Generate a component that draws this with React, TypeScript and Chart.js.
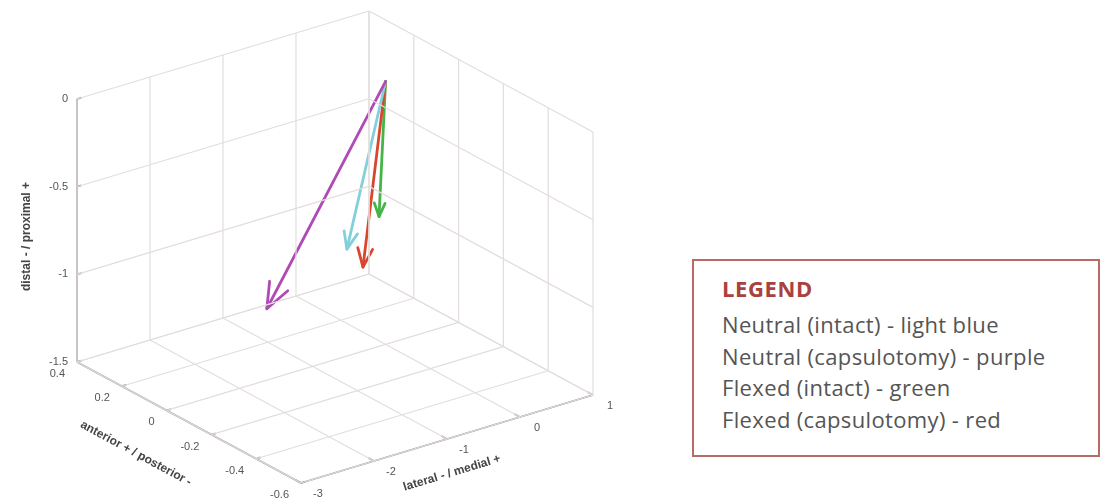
import { useEffect, useRef } from 'react';
import { Chart, registerables } from 'chart.js';

Chart.register(...registerables);

// ---- axis ticks ----
const xTicks = [-3, -2, -1, 0, 1];
const xTickLabels = ['-3', '-2', '-1', '0', '1'];
const yTicks = [-0.6, -0.4, -0.2, 0, 0.2, 0.4];
const yTickLabels = ['-0.6', '-0.4', '-0.2', '0', '0.2', '0.4'];
const zTicks = [-1.5, -1, -0.5, 0];
const zTickLabels = ['-1.5', '-1', '-0.5', '0'];

const xTitle = 'lateral - / medial +';
const yTitle = 'anterior + / posterior -';
const zTitle = 'distal - / proximal +';

// ---- series (3D vectors from origin) ----
const seriesNames = ['Neutral (intact)', 'Neutral (capsulotomy)', 'Flexed (intact)', 'Flexed (capsulotomy)'];
const colorNames = ['light blue', 'purple', 'green', 'red'];
const seriesColors = ['#84d0da', '#b04ab4', '#45b548', '#d8462f'];
const vecLatMed = [-0.53, -1.32, -0.09, -0.31];
const vecAntPost = [0, 0.1, 0, 0];
const vecDistProx = [-0.89, -1.2, -0.76, -1.02];
const drawOrder = [1, 0, 3, 2];

// ---- view (projection of the 3D box to the canvas) ----
const W = 1101;
const H = 502;
const X_LIM = [-3, 1];
const Y_LIM = [-0.6, 0.4];
const Z_LIM = [-1.5, 0];
const ORIGIN_PX = [301, 483]; // (xmin, ymin, zmin)
const EX = [73, -22];
const EY = [-224, -121];
const EZ = [0, -175.3];

function project(x: number, y: number, z: number) {
  const dx = x - X_LIM[0];
  const dy = y - Y_LIM[0];
  const dz = z - Z_LIM[0];
  return {
    x: ORIGIN_PX[0] + dx * EX[0] + dy * EY[0] + dz * EZ[0],
    y: ORIGIN_PX[1] + dx * EX[1] + dy * EY[1] + dz * EZ[1],
  };
}

type Seg = [number, number, number, number, number, number];

function gridSegments(): Seg[] {
  const s: Seg[] = [];
  const [x0, x1] = X_LIM;
  const [y0, y1] = Y_LIM;
  const [z0, z1] = Z_LIM;
  // floor
  xTicks.forEach((xt) => s.push([xt, y0, z0, xt, y1, z0]));
  yTicks.forEach((yt) => s.push([x0, yt, z0, x1, yt, z0]));
  // back-left wall (y = ymax)
  xTicks.forEach((xt) => s.push([xt, y1, z0, xt, y1, z1]));
  zTicks.forEach((zt) => s.push([x0, y1, zt, x1, y1, zt]));
  // back-right wall (x = xmax)
  yTicks.forEach((yt) => s.push([x1, yt, z0, x1, yt, z1]));
  zTicks.forEach((zt) => s.push([x1, y0, zt, x1, y1, zt]));
  return s;
}

function axisSegments(): Seg[] {
  const s: Seg[] = [];
  const [x0, x1] = X_LIM;
  const [y0, y1] = Y_LIM;
  const [z0, z1] = Z_LIM;
  s.push([x0, y1, z0, x0, y1, z1]);
  s.push([x0, y0, z0, x0, y1, z0]);
  s.push([x0, y0, z0, x1, y0, z0]);
  zTicks.forEach((zt) => s.push([x0, y1, zt, x0 + 0.06, y1, zt]));
  yTicks.forEach((yt) => s.push([x0, yt, z0, x0 + 0.06, yt, z0]));
  xTicks.forEach((xt) => s.push([xt, y0, z0, xt, y0 + 0.025, z0]));
  return s;
}

function segDataset(seg: Seg, color: string, width: number) {
  const a = project(seg[0], seg[1], seg[2]);
  const b = project(seg[3], seg[4], seg[5]);
  return {
    data: [a, b],
    borderColor: color,
    borderWidth: width,
    showLine: true,
    pointRadius: 0,
    fill: false,
  };
}

function arrowDatasets(i: number) {
  const o = project(0, 0, 0);
  const t = project(vecLatMed[i], vecAntPost[i], vecDistProx[i]);
  const dx = t.x - o.x;
  const dy = t.y - o.y;
  const len = Math.hypot(dx, dy);
  const ux = dx / len;
  const uy = dy / len;
  const hl = len * 0.1;
  const hw = hl * 0.4;
  const bx = t.x - ux * hl;
  const by = t.y - uy * hl;
  const left = { x: bx - uy * hw, y: by + ux * hw };
  const right = { x: bx + uy * hw, y: by - ux * hw };
  const base = {
    borderColor: seriesColors[i],
    borderWidth: 2.8,
    showLine: true,
    pointRadius: 0,
    fill: false,
    borderCapStyle: 'round' as const,
    borderJoinStyle: 'round' as const,
  };
  return [
    { ...base, label: seriesNames[i], data: [o, t] },
    { ...base, data: [left, t, right] },
  ];
}

const textPlugin = {
  id: 'axisText',
  afterDraw(chart: any) {
    const ctx = chart.ctx as CanvasRenderingContext2D;
    const sx = chart.scales.x;
    const sy = chart.scales.y;
    const px = (p: { x: number; y: number }) => ({ x: sx.getPixelForValue(p.x), y: sy.getPixelForValue(p.y) });
    ctx.save();
    ctx.fillStyle = '#555';
    ctx.font = '11px "Liberation Sans", Arial, sans-serif';
    ctx.textBaseline = 'middle';
    // z ticks
    ctx.textAlign = 'right';
    zTicks.forEach((zt, k) => {
      const p = px(project(X_LIM[0], Y_LIM[1], zt));
      ctx.fillText(zTickLabels[k], p.x - 9, p.y);
    });
    // y ticks
    yTicks.forEach((yt, k) => {
      const p = px(project(X_LIM[0], yt, Z_LIM[0]));
      ctx.fillText(yTickLabels[k], p.x - 12, p.y + 12);
    });
    // x ticks
    ctx.textAlign = 'center';
    xTicks.forEach((xt, k) => {
      const p = px(project(xt, Y_LIM[0], Z_LIM[0]));
      ctx.fillText(xTickLabels[k], p.x + 17, p.y + 11);
    });
    // titles
    ctx.fillStyle = '#444';
    ctx.font = 'bold 12px "Liberation Sans", Arial, sans-serif';
    const drawRot = (text: string, cx: number, cy: number, ang: number) => {
      ctx.save();
      ctx.translate(cx, cy);
      ctx.rotate(ang);
      ctx.textAlign = 'center';
      ctx.textBaseline = 'middle';
      ctx.fillText(text, 0, 0);
      ctx.restore();
    };
    const zl = px(project(X_LIM[0], Y_LIM[1], (Z_LIM[0] + Z_LIM[1]) / 2));
    drawRot(zTitle, zl.x - 50, zl.y + 6, -Math.PI / 2);
    const yl = px(project(X_LIM[0], (Y_LIM[0] + Y_LIM[1]) / 2, Z_LIM[0]));
    drawRot(yTitle, yl.x - 53, yl.y + 31, Math.atan2(-EY[1], -EY[0]));
    const xl = px(project((X_LIM[0] + X_LIM[1]) / 2, Y_LIM[0], Z_LIM[0]));
    drawRot(xTitle, xl.x + 5, xl.y + 34, Math.atan2(EX[1], EX[0]));
    ctx.restore();
  },
};

export default function App() {
  const canvasRef = useRef<HTMLCanvasElement | null>(null);

  useEffect(() => {
    document.body.style.margin = '0';
    const canvas = canvasRef.current;
    if (!canvas) return;
    const datasets: any[] = [];
    gridSegments().forEach((s) => datasets.push(segDataset(s, '#e3dddd', 1.2)));
    axisSegments().forEach((s) => datasets.push(segDataset(s, '#9a9494', 1.8)));
    drawOrder.forEach((i) => arrowDatasets(i).forEach((d) => datasets.push(d)));
    const chart = new Chart(canvas, {
      type: 'scatter',
      data: { datasets },
      options: {
        animation: false,
        responsive: false,
        maintainAspectRatio: false,
        layout: { padding: 0 },
        plugins: { legend: { display: false }, tooltip: { enabled: false } },
        scales: {
          x: { type: 'linear', min: 0, max: W, display: false },
          y: { type: 'linear', min: 0, max: H, reverse: true, display: false },
        },
      },
      plugins: [textPlugin],
    });
    return () => chart.destroy();
  }, []);

  const lineTops = [309, 340.7, 372.3, 404];
  return (
    <div style={{ position: 'relative', width: W, height: H, background: '#fff', overflow: 'hidden' }}>
      <canvas ref={canvasRef} width={W} height={H} style={{ position: 'absolute', left: 0, top: 0, width: W, height: H }} />
      <div
        style={{
          position: 'absolute',
          left: 692,
          top: 259,
          width: 408,
          height: 198,
          boxSizing: 'border-box',
          border: '2px solid #b86a66',
          background: '#fff',
        }}
      />
      <div
        style={{
          position: 'absolute',
          left: 722,
          top: 273,
          font: 'bold 22px "Open Sans", sans-serif',
          letterSpacing: '0.6px',
          lineHeight: '30px',
          color: '#a8423f',
          whiteSpace: 'nowrap',
        }}
      >
        LEGEND
      </div>
      {seriesNames.map((n, k) => (
        <div
          key={n}
          style={{
            position: 'absolute',
            left: 722,
            top: lineTops[k],
            font: '22px "Open Sans", sans-serif',
            letterSpacing: '0.35px',
            lineHeight: '30px',
            color: '#555',
            whiteSpace: 'nowrap',
          }}
        >
          {n} - {colorNames[k]}
        </div>
      ))}
    </div>
  );
}
